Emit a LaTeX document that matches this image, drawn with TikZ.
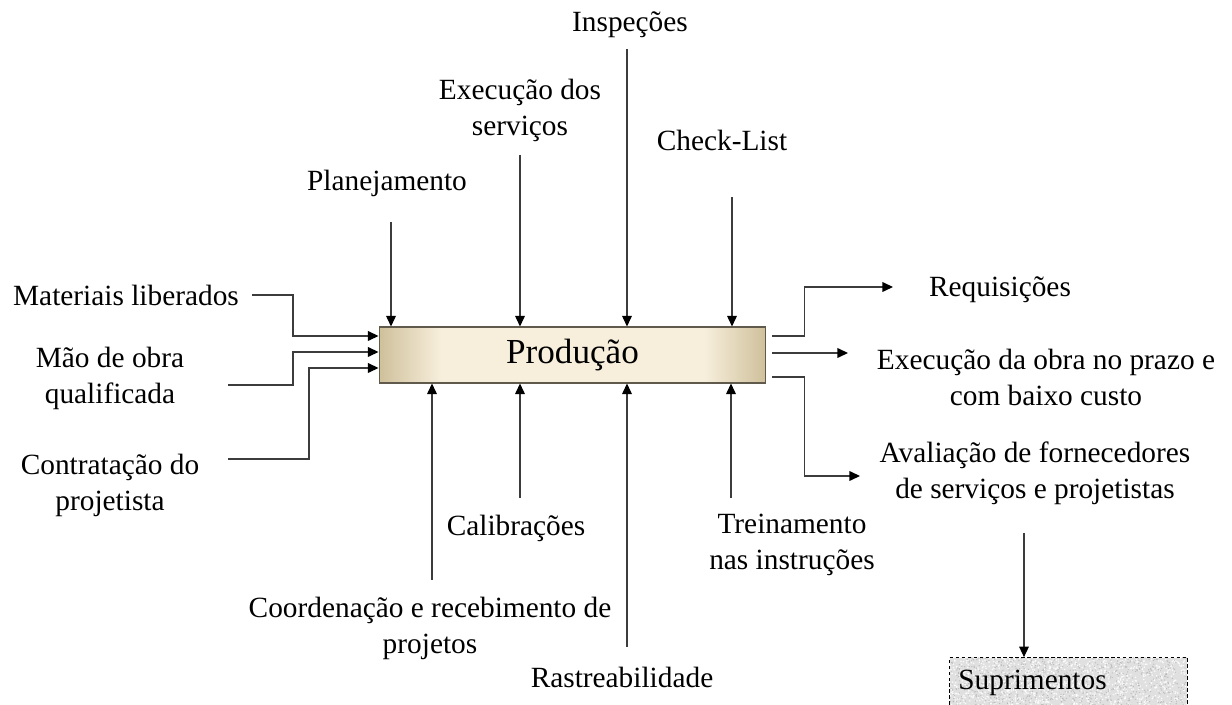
\documentclass[tikz,border=0pt]{standalone}
\usepackage{fontspec}
\setmainfont{Liberation Serif}
\usetikzlibrary{arrows.meta,calc}

\definecolor{boxedge}{RGB}{207,192,155}
\definecolor{boxmid}{RGB}{247,239,220}
\definecolor{boxline}{RGB}{95,90,75}
\definecolor{wire}{RGB}{60,60,60}
\definecolor{supfill}{RGB}{224,224,224}

% light centre, tan ends
\pgfdeclarehorizontalshading{prodshade}{100bp}{%
  color(0bp)=(boxedge); color(25bp)=(boxedge); color(33bp)=(boxmid);
  color(67bp)=(boxmid); color(75bp)=(boxedge); color(100bp)=(boxedge)}

\begin{document}
\begin{tikzpicture}[x=0.02cm, y=-0.02cm,
  font=\fontsize{16.7}{20.5}\selectfont,
  wire/.style={draw=wire, line width=0.7pt,
    -{Triangle[length=6pt,width=5.5pt,color=black]}},
  lbl/.style={align=center, inner sep=0pt},
  prod/.style={shading=prodshade, draw=boxline, line width=0.6pt,
    minimum width=7.74cm, minimum height=1.12cm, inner sep=0pt,
    font=\fontsize{20}{24}\selectfont},
  supbox/.style={fill=supfill, minimum width=4.74cm, minimum height=1.3cm,
    inner sep=0pt}]

\clip (0,0) rectangle (1232,705);

% central activity
\node[prod] (box) at (572.5,355) {\raisebox{-0.8pt}{Produção}};

% labels
\node[lbl] (lMat)   at (126,295)  {Materiais liberados};
\node[lbl] (lMao)   at (110,378)  {Mão de obra\\qualificada};
\node[lbl] (lCon)   at (110,485)  {Contratação do\\projetista};
\node[lbl] (lPlan)  at (387,183)  {Planejamento};
\node[lbl] (lExec)  at (520,110)  {Execução dos\\serviços};
\node[lbl] (lInsp)  at (630,25)   {Inspeções};
\node[lbl] (lCheck) at (722,140)  {Check-List};
\node[lbl] (lCal)   at (516,528)  {Calibrações};
\node[lbl] (lTrein) at (792,545)  {Treinamento\\nas instruções};
\node[lbl] (lCoord) at (430,628)  {Coordenação e recebimento de\\projetos};
\node[lbl] (lRast)  at (622,677)  {Rastreabilidade};
\node[lbl] (lReq)   at (1000,290) {Requisições};
\node[lbl] (lExecO) at (1046,377) {Execução da obra no prazo e\\com baixo custo};
\node[lbl] (lAval)  at (1035,473) {Avaliação de fornecedores\\de serviços e projetistas};

% supplies box with a speckled fill
\node[supbox] (supbox) at (1068.5,690) {};
\begin{scope}
  \clip (supbox.south west) rectangle (supbox.north east);
  \pgfmathsetseed{7}
  \foreach \i in {1,...,1500}{
    \pgfmathsetmacro\rx{950+237*rnd}
    \pgfmathsetmacro\ry{657+66*rnd}
    \fill[white, opacity=0.85] (\rx,\ry) circle (0.5pt);
  }
  \foreach \i in {1,...,1100}{
    \pgfmathsetmacro\rx{950+237*rnd}
    \pgfmathsetmacro\ry{657+66*rnd}
    \fill[black!30, opacity=0.75] (\rx,\ry) circle (0.4pt);
  }
\end{scope}
\draw[black, line width=0.5pt, dash pattern=on 2pt off 1.4pt]
  (supbox.south west) rectangle (supbox.north east);
\node[lbl, anchor=west] (sup) at (958,683) {Suprimentos};

% inputs from the left
\coordinate (w1) at ($(box.west)+(0,-19)$);
\coordinate (w2) at ($(box.west)+(0,-3)$);
\coordinate (w3) at ($(box.west)+(0,13)$);
\coordinate (iMat) at (252,295);
\coordinate (iMao) at (228,385);
\coordinate (iCon) at (228,459);
\draw[wire] (iMat) -- ++(41,0) |- (w1);
\draw[wire] (iMao) -- ++(65,0) |- (w2);
\draw[wire] (iCon) -- ++(81,0) |- (w3);

% controls from above
\coordinate (tPlan)  at (391,222);
\coordinate (tExec)  at (520,155);
\coordinate (tInsp)  at (627,49);
\coordinate (tCheck) at (732,197);
\foreach \c in {tPlan,tExec,tInsp,tCheck}
  \draw[wire] (\c) -- (\c |- box.north);

% mechanisms from below
\coordinate (bCoord) at (432,580);
\coordinate (bCal)   at (520,498);
\coordinate (bRast)  at (627,647);
\coordinate (bTrein) at (731,498);
\foreach \c in {bCoord,bCal,bRast,bTrein}
  \draw[wire] (\c) -- (\c |- box.south);

% outputs to the right
\coordinate (e1) at ($(box.east)+(6,-19)$);
\coordinate (e2) at ($(box.east)+(6,-2)$);
\coordinate (e3) at ($(box.east)+(6,22)$);
\coordinate (oReq)  at (893,287);
\coordinate (oExec) at (848,353);
\coordinate (oAval) at (860,476);
\draw[wire] (e1) -- ++(32,0) |- (oReq);
\draw[wire] (e2) -- (oExec);
\draw[wire] (e3) -- ++(32,0) |- (oAval);

% evaluation feeds supplies
\coordinate (sIn) at (1024,533);
\draw[wire] (sIn) -- (sIn |- supbox.north);
\end{tikzpicture}
\end{document}
